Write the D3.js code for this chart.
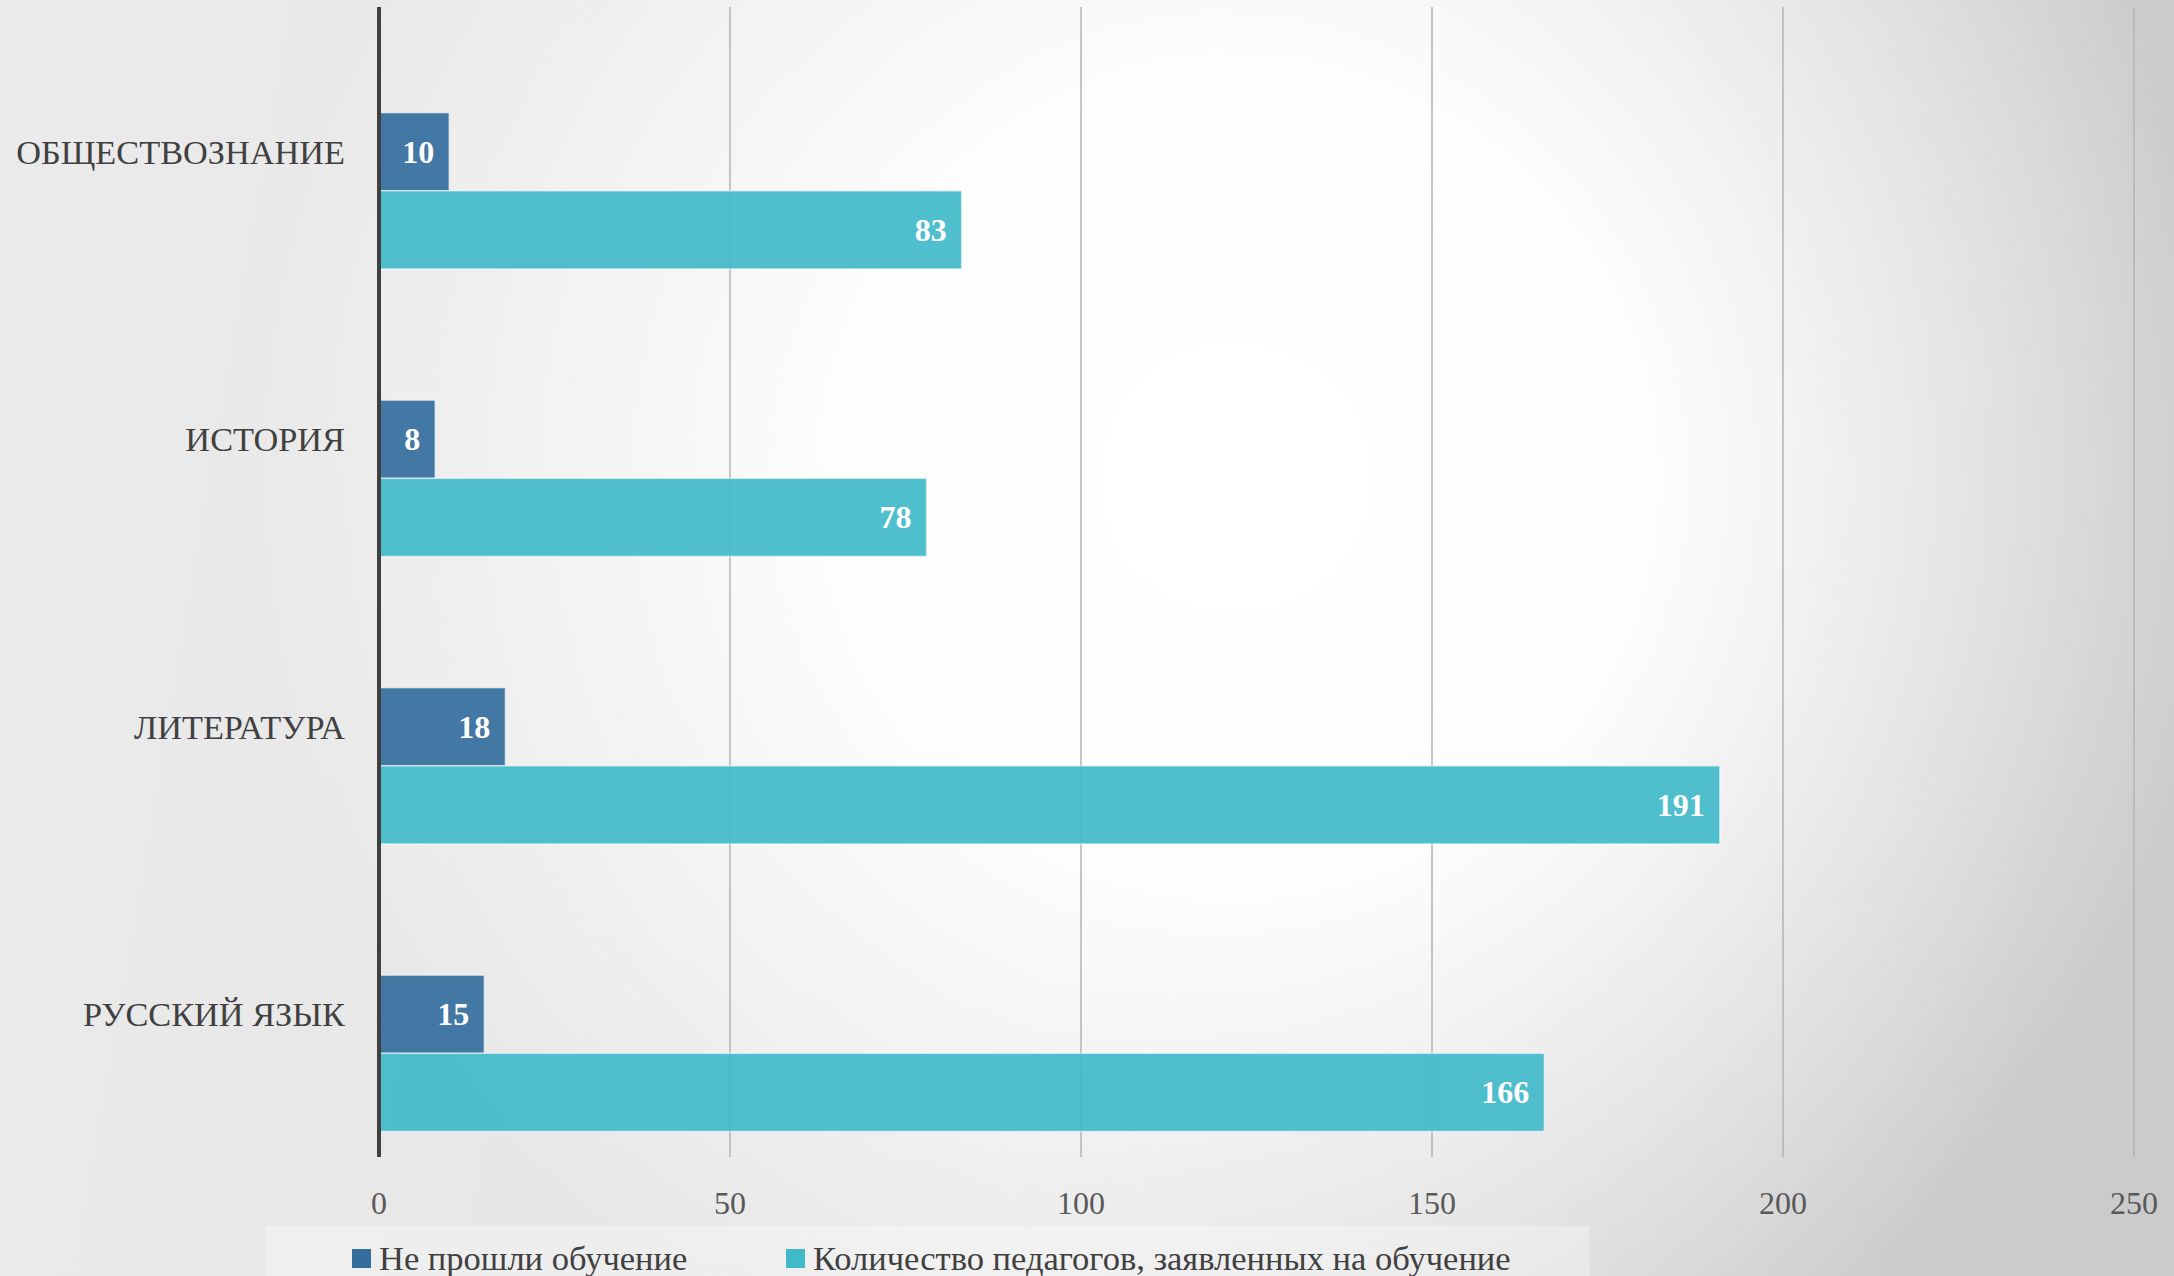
<!DOCTYPE html>
<html>
<head>
<meta charset="utf-8">
<script src="https://cdn.jsdelivr.net/npm/d3@7"></script>
<style>
  html, body { margin: 0; padding: 0; overflow: hidden; }
  svg { display: block; }
</style>
</head>
<body>
<svg width="2174" height="1276"></svg>
<script>
// data
const categories = ['ОБЩЕСТВОЗНАНИЕ', 'ИСТОРИЯ', 'ЛИТЕРАТУРА', 'РУССКИЙ ЯЗЫК'];
const seriesNames = ['Не прошли обучение', 'Количество педагогов, заявленных на обучение'];
const notTrained = [10, 8, 18, 15];
const applied = [83, 78, 191, 166];
const xTicks = [0, 50, 100, 150, 200, 250];

const colors = ['#346E9D', '#40B9C9'];
const font = '"Liberation Serif", "DejaVu Serif", serif';

const W = 2174, H = 1276;
const svg = d3.select('svg');
const defs = svg.append('defs');

// background: light-to-grey horizontal wash plus a white spotlight
const lin = defs.append('linearGradient').attr('id', 'bgLin')
  .attr('x1', 0).attr('y1', 0).attr('x2', 1).attr('y2', 0.1);
lin.append('stop').attr('offset', 0).attr('stop-color', '#ebebeb');
lin.append('stop').attr('offset', 0.55).attr('stop-color', '#e4e4e4');
lin.append('stop').attr('offset', 1).attr('stop-color', '#cbcbcb');

const rad = defs.append('radialGradient').attr('id', 'bgRad')
  .attr('gradientUnits', 'userSpaceOnUse')
  .attr('cx', 1250).attr('cy', 480).attr('r', 1000);
rad.append('stop').attr('offset', 0).attr('stop-color', '#fff').attr('stop-opacity', 1);
rad.append('stop').attr('offset', 0.4).attr('stop-color', '#fff').attr('stop-opacity', 0.95);
rad.append('stop').attr('offset', 1).attr('stop-color', '#fff').attr('stop-opacity', 0);

svg.append('rect').attr('width', W).attr('height', H).attr('fill', 'url(#bgLin)');
svg.append('rect').attr('width', W).attr('height', H).attr('fill', 'url(#bgRad)');

const x = d3.scaleLinear().domain([0, 250]).range([379, 2134]);
const y = d3.scaleBand().domain(categories).range([8, 1158]);
// three slots per category, first one is empty (as in the source chart)
const inner = d3.scaleBand().domain([0, 1, 2]).range([0, y.bandwidth()]).paddingOuter(0.34);

// gridlines
svg.append('g')
  .selectAll('line')
  .data(xTicks.filter(d => d > 0))
  .join('line')
  .attr('x1', d => x(d)).attr('x2', d => x(d))
  .attr('y1', 7).attr('y2', 1157)
  .attr('stroke', '#b3b3b3')
  .attr('stroke-width', 1.5);

// tick labels
svg.append('g')
  .selectAll('text')
  .data(xTicks)
  .join('text')
  .attr('x', d => x(d))
  .attr('y', 1203)
  .attr('text-anchor', 'middle')
  .attr('dominant-baseline', 'central')
  .attr('font-family', font)
  .attr('font-size', 32)
  .attr('fill', '#595959')
  .text(d => d);

// bars
const series = [notTrained, applied];
series.forEach((vals, si) => {
  const g = svg.append('g');
  const rows = categories.map((c, i) => ({ c, v: vals[i] }));
  g.selectAll('rect')
    .data(rows)
    .join('rect')
    .attr('x', x(0))
    .attr('y', d => y(d.c) + inner(si + 1))
    .attr('width', d => x(d.v) - x(0))
    .attr('height', inner.bandwidth())
    .attr('fill', colors[si])
    .attr('fill-opacity', 0.92)
    .attr('stroke', '#ffffff')
    .attr('stroke-opacity', 0.55)
    .attr('stroke-width', 1.5);
  g.selectAll('text')
    .data(rows)
    .join('text')
    .attr('x', d => x(d.v) - 15)
    .attr('y', d => y(d.c) + inner(si + 1) + inner.bandwidth() / 2)
    .attr('text-anchor', 'end')
    .attr('dominant-baseline', 'central')
    .attr('font-family', font)
    .attr('font-weight', 'bold')
    .attr('font-size', 32)
    .attr('fill', '#ffffff')
    .text(d => d.v);
});

// vertical category axis
svg.append('line')
  .attr('x1', x(0)).attr('x2', x(0))
  .attr('y1', 7).attr('y2', 1157)
  .attr('stroke', '#404040')
  .attr('stroke-width', 4);

svg.append('g')
  .selectAll('text')
  .data(categories)
  .join('text')
  .attr('x', 345)
  .attr('y', d => y(d) + y.bandwidth() / 2)
  .attr('text-anchor', 'end')
  .attr('dominant-baseline', 'central')
  .attr('font-family', font)
  .attr('font-size', 34.3)
  .attr('fill', '#404040')
  .text(d => d);

// legend
svg.append('rect')
  .attr('x', 266).attr('y', 1226).attr('width', 1324).attr('height', 50)
  .attr('fill', '#ffffff').attr('fill-opacity', 0.3);

const legendX = [352, 786];
const leg = svg.append('g')
  .selectAll('g')
  .data(seriesNames)
  .join('g')
  .attr('transform', (d, i) => `translate(${legendX[i]},1258)`);
leg.append('rect')
  .attr('x', 0).attr('y', -9).attr('width', 19).attr('height', 19)
  .attr('fill', (d, i) => colors[i]);
leg.append('text')
  .attr('x', 27)
  .attr('y', 0)
  .attr('dominant-baseline', 'central')
  .attr('font-family', font)
  .attr('font-size', 34.5)
  .attr('fill', '#404040')
  .text(d => d);
</script>
</body>
</html>
